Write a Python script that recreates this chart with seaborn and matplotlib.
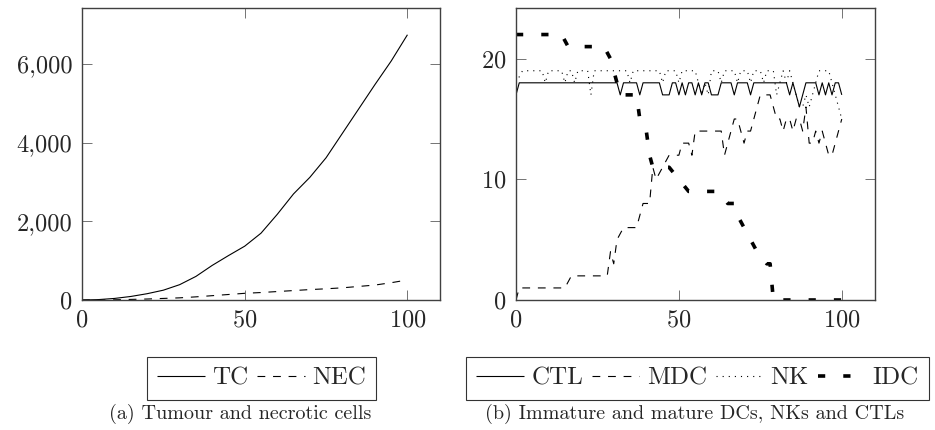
import matplotlib
matplotlib.use("Agg")
import matplotlib.pyplot as plt
import matplotlib.ticker as mticker
import seaborn as sns
import pandas as pd

# (a) tumour and necrotic cells
t_cells = [0, 5, 10, 15, 20, 25, 30, 35, 40, 45, 50, 55, 60, 65, 70, 75, 80, 85, 90, 95, 100]
tc = [0, 10, 40, 90, 160, 250, 390, 600, 880, 1130, 1370, 1700, 2180, 2700, 3120, 3620, 4240, 4860, 5480, 6080, 6750]
nec = [0, 0, 5, 15, 25, 40, 55, 80, 110, 140, 170, 190, 215, 240, 265, 285, 310, 345, 380, 440, 510]

# (b) DCs, NKs and CTLs
ctl_t = [0, 1, 31, 32, 33, 37, 38, 39, 44, 45, 47, 48, 49, 50, 51, 52, 53, 54, 55, 56, 57, 58,
         59, 60, 62, 63, 66, 67, 68, 71, 72, 73, 83, 84, 85, 86, 87, 88, 89, 92, 93, 94, 95, 96,
         97, 98, 99, 100]
ctl = [17, 18, 18, 17, 18, 18, 17, 18, 18, 17, 17, 18, 18, 17, 18, 17, 18, 18, 17, 18, 17, 18,
       18, 17, 17, 18, 18, 17, 18, 18, 17, 18, 18, 17, 18, 17, 16, 17, 18, 18, 17, 18, 17, 18,
       17, 18, 18, 17]

mdc_t = [0, 1, 15, 17, 28, 29, 30, 31, 33, 37, 39, 41, 42, 43, 45, 47, 49, 50, 51, 53, 54, 55,
         58, 63, 64, 65, 67, 68, 69, 70, 71, 72, 74, 75, 78, 79, 80, 81, 82, 83, 84, 85, 86, 87,
         88, 89, 90, 91, 92, 93, 94, 95, 96, 97, 98, 100]
mdc = [0, 1, 1, 2, 2, 4, 3, 5, 6, 6, 8, 8, 11, 10, 11, 12, 12, 12, 13, 13, 12, 14,
       14, 14, 12, 13, 15, 15, 14, 13, 14, 14, 16, 17, 17, 16, 15, 15, 14, 15, 15, 14, 15, 15,
       14, 16, 13, 13, 14, 13, 14, 13, 12, 12, 13, 15]

nk_t = [0, 2, 8, 9, 10, 14, 15, 16, 17, 18, 19, 22, 23, 24, 34, 35, 36, 44, 45, 46, 49, 50, 51,
        55, 56, 57, 58, 59, 60, 62, 63, 64, 67, 68, 69, 71, 72, 73, 75, 76, 77, 79, 80, 81, 82,
        83, 84, 85, 86, 87, 88, 89, 90, 91, 92, 93, 96, 97, 98, 99, 100]
nk = [18, 19, 19, 18, 19, 19, 18, 19, 19, 18, 19, 19, 17, 19, 19, 18, 19, 19, 18, 19, 19, 18, 19,
      19, 18, 17, 18, 17, 19, 19, 18, 19, 19, 18, 19, 19, 18, 19, 19, 18, 19, 19, 17, 18, 19,
      18, 19, 18, 17, 16, 16, 17, 16, 17, 18, 19, 19, 18, 17, 16, 15]

idc_t = [0, 14, 16, 27, 29, 30, 32, 37, 38, 40, 41, 42, 47, 50, 53, 62, 65, 67, 68, 70, 72, 74, 77, 78, 79, 100]
idc = [22, 22, 21, 21, 20, 19, 17, 17, 15, 14, 12, 11, 11, 10, 9, 9, 8, 8, 7, 6, 5, 4, 3, 3, 0, 0]

captions = ["(a) Tumour and necrotic cells", "(b) Immature and mature DCs, NKs and CTLs"]

sns.set_style("ticks")
plt.rcParams["font.family"] = ["cmr10", "DejaVu Serif"]
plt.rcParams["axes.formatter.use_mathtext"] = True
plt.rcParams["lines.solid_capstyle"] = "butt"
plt.rcParams["lines.dash_capstyle"] = "butt"

FS = 17.5
LFS = 18
fig = plt.figure(figsize=(9.35, 4.3), dpi=100)
ax1 = fig.add_axes([82 / 935, 130 / 430, 358 / 935, 292 / 430])
ax2 = fig.add_axes([516 / 935, 130 / 430, 359 / 935, 292 / 430])

thin = 0.8
sns.lineplot(x=t_cells, y=tc, ax=ax1, color="black", lw=thin, label="TC")
sns.lineplot(x=t_cells, y=nec, ax=ax1, color="black", lw=thin, linestyle=(0, (7, 7)), label="NEC")

sns.lineplot(x=ctl_t, y=ctl, ax=ax2, color="black", lw=thin, label="CTL")
sns.lineplot(x=mdc_t, y=mdc, ax=ax2, color="black", lw=thin, linestyle=(0, (7, 7)), label="MDC")
sns.lineplot(x=nk_t, y=nk, ax=ax2, color="black", lw=thin, linestyle=(0, (1, 4.5)), label="NK")
sns.lineplot(x=idc_t, y=idc, ax=ax2, color="black", lw=2.6, linestyle=(0, (2, 5)), label="IDC")

ax1.set_xlim(0, 110)
ax1.set_ylim(0, 7430)
ax1.set_yticks([0, 2000, 4000, 6000])
ax1.yaxis.set_major_formatter(mticker.FuncFormatter(lambda v, p: f"{int(v):,}"))
ax2.set_xlim(0, 110.2)
ax2.set_ylim(0, 24.2)
ax2.set_yticks([0, 10, 20])

# subfigure centres and caption positions (figure pixels)
cap_x = [240, 695]
leg_x = [261.5, 697.5]

for ax, cap, ncol, cx, lx in [(ax1, captions[0], 2, cap_x[0], leg_x[0]),
                              (ax2, captions[1], 4, cap_x[1], leg_x[1])]:
    ax.set_xticks([0, 50, 100])
    ax.set_xlabel("")
    ax.set_ylabel("")
    for s in ax.spines.values():
        s.set_visible(True)
        s.set_color("0.25")
        s.set_linewidth(1.0)
    ax.tick_params(direction="in", length=7, width=0.7, color="0.45", labelsize=FS,
                   top=True, right=True, pad=7)
    leg = ax.legend(loc="upper center", bbox_to_anchor=(lx / 935, 73 / 430),
                    bbox_transform=fig.transFigure, ncol=ncol, fontsize=LFS,
                    frameon=True, fancybox=False, edgecolor="black", borderaxespad=0,
                    handlelength=1.9, handletextpad=0.3, columnspacing=0.35, borderpad=0.4)
    leg.get_frame().set_linewidth(0.8)
    fig.text(cx / 935, 16 / 430, cap, ha="center", va="center", fontsize=14.5)

fig.savefig("out.png", dpi=100)
